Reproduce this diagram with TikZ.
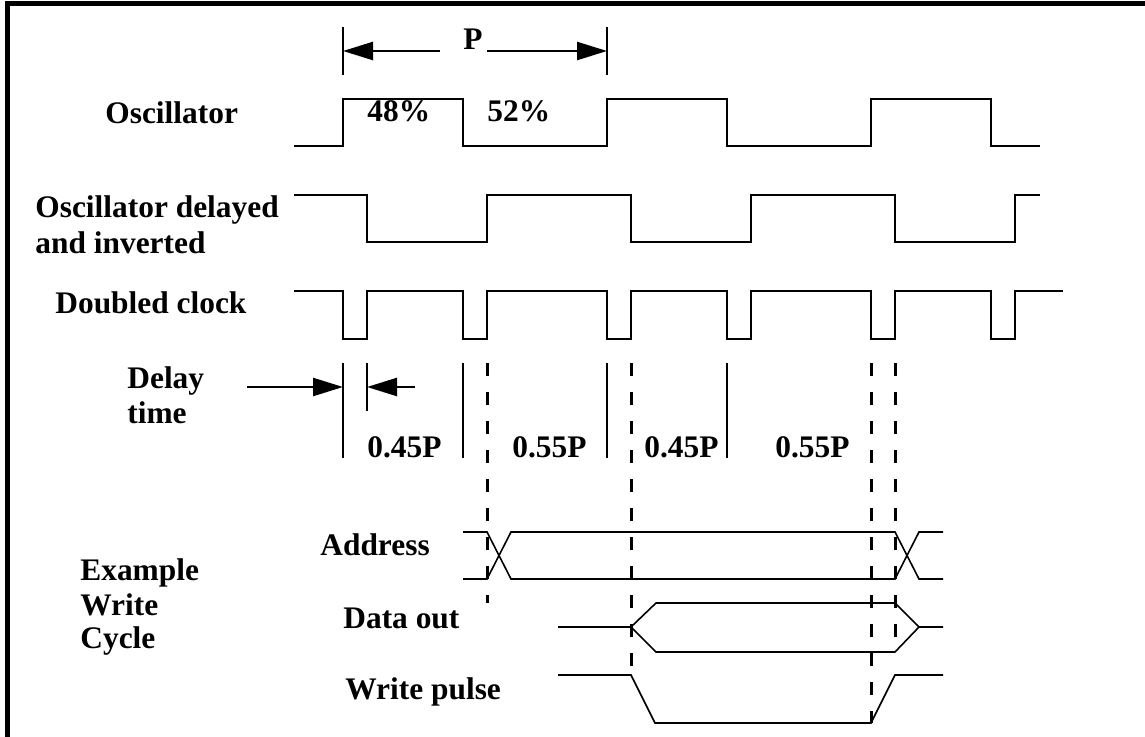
\documentclass[tikz,border=0pt]{standalone}
\usepackage{fontspec}
\setmainfont{Liberation Serif}
\usetikzlibrary{arrows.meta}
\begin{document}
\begin{tikzpicture}[x=0.5pt, y=-0.5pt,
  every node/.style={inner sep=0pt, anchor=base west, font=\fontsize{15.7}{17.5}\selectfont\bfseries},
  wave/.style={line width=1.4pt},
  bus/.style={line width=0.8pt},
  tick/.style={line width=1.2pt},
  guide/.style={line width=1.5pt, dash pattern=on 6.5pt off 8pt},
  dimarrow/.style={line width=1.2pt, -{Triangle[length=15pt,width=9pt]}}]
\useasboundingbox (0,0) rectangle (1145,737);
% Frame
\draw[line width=2.5pt] (7,737) -- (7,4) -- (1145,4);

% Signal names
\node (osc) at (105,124) {Oscillator};
\node (inv) at (35,218) {Oscillator delayed};
\node (inv2) at (35,254) {and inverted};
\node (dbl) at (55,314) {Doubled clock};
\node (delay) at (127,388) {Delay};
\node (delay2) at (127,423) {time};
\node (ex) at (80,580) {Example};
\node (ex2) at (80,615) {Write};
\node (ex3) at (80,648) {Cycle};
\node (addr) at (320,555) {Address};
\node (dout) at (343,628) {Data out};
\node (wp) at (345,699) {Write pulse};

% Period P
\draw[tick] (343,27) -- (343,75);
\draw[tick] (607,27) -- (607,75);
\node[anchor=base] (plab) at (473,50) {P};
\coordinate (pl) at (343,51);
\coordinate (pr) at (607,51);
\coordinate (pla) at (440,51);
\coordinate (pra) at (487,51);
\draw[dimarrow] (pla) -- (pl);
\draw[dimarrow] (pra) -- (pr);

% Oscillator
\draw[wave] (294,146) -- (343,146) -- (343,99) -- (463,99) -- (463,146) -- (607,146) -- (607,99) -- (727,99) -- (727,146) -- (871,146) -- (871,99) -- (991,99) -- (991,146) -- (1040,146);
\node (hi) at (367,122) {48\%};
\node (lo) at (487,122) {52\%};

% Oscillator delayed and inverted
\draw[wave] (294,195) -- (367,195) -- (367,242) -- (487,242) -- (487,195) -- (631,195) -- (631,242) -- (751,242) -- (751,195) -- (895,195) -- (895,242) -- (1015,242) -- (1015,195) -- (1040,195);

% Doubled clock
\draw[wave] (294,291) -- (343,291) -- (343,339) -- (367,339) -- (367,291) -- (463,291) -- (463,339) -- (487,339) -- (487,291) -- (607,291) -- (607,339) -- (631,339) -- (631,291) -- (727,291) -- (727,339) -- (751,339) -- (751,291) -- (871,291) -- (871,339) -- (895,339) -- (895,291) -- (991,291) -- (991,339) -- (1015,339) -- (1015,291) -- (1063,291);

% Delay time
\coordinate (da) at (247,387);
\coordinate (db) at (343,387);
\coordinate (dc) at (415,387);
\coordinate (dd) at (367,387);
\draw[dimarrow] (da) -- (db);
\draw[dimarrow] (dc) -- (dd);
\draw[tick] (343,363) -- (343,458);
\draw[tick] (367,363) -- (367,411);
\draw[tick] (463,363) -- (463,458);
\draw[tick] (607,363) -- (607,458);
\draw[tick] (727,363) -- (727,458);
\draw[guide] (487,363) -- (487,603);
\draw[guide] (631,363) -- (631,675);
\draw[guide] (871,363) -- (871,723);
\draw[guide] (895,363) -- (895,652);
\node (t1) at (367,458) {0.45P};
\node (t2) at (512,458) {0.55P};
\node (t3) at (644,458) {0.45P};
\node (t4) at (775,458) {0.55P};

% Write cycle
\draw[bus] (463,532) -- (487,532) -- (511,579) -- (895,579) -- (919,532) -- (943,532);
\draw[bus] (463,579) -- (487,579) -- (511,532) -- (895,532) -- (919,579) -- (943,579);
\draw[bus] (558,627) -- (631,627) -- (656,603) -- (895,603) -- (919,627) -- (943,627);
\draw[bus] (631,627) -- (656,652) -- (895,652) -- (919,627);
\draw[bus] (558,675) -- (631,675) -- (655,723) -- (871,723) -- (895,675) -- (943,675);

\end{tikzpicture}
\end{document}
